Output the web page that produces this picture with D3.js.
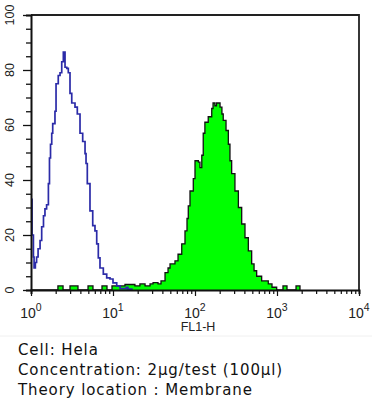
<!DOCTYPE html>
<html><head><meta charset="utf-8">
<script src="https://cdn.jsdelivr.net/npm/d3@7"></script>
<style>body{margin:0;background:#fff}</style>
</head><body><svg id="c" width="372" height="400"></svg>
<script>
// Isotype control (blue outline): FL1-H channel value, count (step after)
const isoX = [1.00,1.03,1.07,1.09,1.13,1.17,1.22,1.29,1.35,1.42,1.48,1.55,1.63,1.68,1.73,1.79,1.84,1.96,2.02,2.15,2.26,2.37,2.48,2.60,2.73,2.85,2.99,3.14,3.44,3.67,3.96,4.27,4.56,4.69,4.86,5.24,5.66,6.03,6.33,6.62,6.94,7.62,8.38,9.19,10.0,11.1,12.2,14.5,15.2,17.0];
const isoY = [33,20,12,8,10,12,15,18,23,27,29.5,31,38.7,48,53,57,60.5,65,75,78,79,83,86.5,81,80.6,79,71.5,68,66.5,64,57,54,49.6,46,38.7,28.8,23.4,21.5,16.8,11.7,8,5.8,4.4,4,2.6,1.5,0.5,1,0.3,0];
// Stained sample (green filled)
const stainX = [1.00,2.13,2.46,2.99,3.74,4.96,5.70,7.34,8.45,9.72,14.0,18.5,21.3,24.6,28.3,30.8,35.4,38.5,43.1,46.9,49.6,57.0,62.1,68.9,75.5,79.9,82.8,86.9,95.3,100,110,115,121,126,132,145,160,166,175,183,191,202,213,221,239,255,267,280,307,338,371,407,447,491,525,565,650,783,869,991,1183,1324,1706,1907];
const stainY = [0,1.5,0,1.5,0,1.5,0,1.5,0,1.5,2,1.5,2.2,1.5,2.2,2.7,2.2,3.3,6.3,8,9.5,10.6,13,16.8,21.5,26,30.6,36,40.5,47,46.5,44.5,49,57,61,63,66,68,67,68,68,66.5,64,61.7,58,53,47,42.3,36,30,24,19,14.2,9.5,7,5,3.3,2.2,1,0,1.5,0,1.5,0];

const yTickValues = [0,20,40,60,80,100];
const xTickExps = [0,1,2,3,4];
const xAxisTitle = "FL1-H";
const infoLines = ["Cell: Hela","Concentration: 2\u00b5g/test (100\u00b5l)","Theory location : Membrane"];

const svg = d3.select("#c");
const m = {l:31,r:359,t:15,b:290};
const x = d3.scaleLog().domain([1,10000]).range([m.l,m.r]);
const y = d3.scaleLinear().domain([0,100]).range([m.b,m.t]);

svg.append("defs").append("clipPath").attr("id","pc")
  .append("rect").attr("x",m.l).attr("y",m.t).attr("width",m.r-m.l).attr("height",m.b-m.t);

const stain = stainX.map((v,i)=>[v,stainY[i]]);
const iso = isoX.map((v,i)=>[v,isoY[i]]);

const g = svg.append("g").attr("clip-path","url(#pc)");
g.append("path").datum(stain)
  .attr("d", d3.area().curve(d3.curveStepAfter).x(d=>x(d[0])).y0(y(0)).y1(d=>y(d[1])))
  .attr("fill","#00ff00");
g.append("path").datum(stain)
  .attr("d", d3.line().curve(d3.curveStepAfter).x(d=>x(d[0])).y(d=>y(d[1])))
  .attr("fill","none").attr("stroke","#111").attr("stroke-width",1.3);
g.append("path").datum(iso)
  .attr("d", d3.line().curve(d3.curveStepAfter).x(d=>x(d[0])).y(d=>y(d[1])))
  .attr("fill","none").attr("stroke","#2b2ba8").attr("stroke-width",1.7);

// frame top/right
svg.append("path").attr("d",`M${m.l},${m.t}H${m.r}V${m.b}`)
  .attr("fill","none").attr("stroke","#222").attr("stroke-width",1.8);

// Y axis
const yMinor = d3.range(0,101,5);
const ya = svg.append("g").attr("transform",`translate(${m.l},0)`)
  .call(d3.axisLeft(y).tickValues(yMinor).tickSize(5).tickFormat(""));
ya.selectAll(".tick line").attr("x2", d=> d%20===0 ? -8 : -5).attr("stroke","#111").attr("stroke-width",1.3);
ya.select(".domain").attr("stroke","#111").attr("stroke-width",2);
svg.append("g").selectAll("text").data(yTickValues).join("text")
  .attr("transform", d=>`translate(14,${Math.max(y(d),11)}) rotate(-90)`)
  .attr("text-anchor","middle")
  .attr("font-family","Liberation Sans, Arial, sans-serif").attr("font-size",12.5).attr("fill","#222")
  .text(d=>d);

// X axis
const xMinor = [];
for (let e=0;e<4;e++) for (let k=1;k<10;k++) xMinor.push(k*Math.pow(10,e));
xMinor.push(10000);
const xa = svg.append("g").attr("transform",`translate(0,${m.b})`)
  .call(d3.axisBottom(x).tickValues(xMinor).tickSize(4).tickFormat(""));
xa.selectAll(".tick line").attr("y2", d=> Math.abs(Math.log10(d)%1)<1e-9 ? 6 : 4).attr("stroke","#111").attr("stroke-width",1.2);
xa.select(".domain").attr("stroke","#111").attr("stroke-width",2);

const xl = svg.append("g").selectAll("text").data(xTickExps).join("text")
  .attr("x", d=>x(Math.pow(10,d)))
  .attr("y", 318)
  .attr("text-anchor","middle")
  .attr("font-family","Liberation Sans, Arial, sans-serif").attr("font-size",14).attr("fill","#222");
xl.append("tspan").text("10");
xl.append("tspan").attr("dy",-7).attr("font-size",10.5).text(d=>d);

svg.append("text").attr("x",x(100)+3).attr("y",331)
  .attr("text-anchor","middle")
  .attr("font-family","Liberation Sans, Arial, sans-serif").attr("font-size",12.5).attr("fill","#222")
  .text(xAxisTitle);

svg.append("line").attr("x1",0).attr("x2",372).attr("y1",336).attr("y2",336)
  .attr("stroke","#f0f0f0").attr("stroke-width",1);

svg.append("g").selectAll("text").data(infoLines).join("text")
  .attr("x",18).attr("y",(d,i)=>355+i*20)
  .attr("font-family","DejaVu Sans, Verdana, sans-serif").attr("font-size",15).attr("letter-spacing",0.9).attr("fill","#111")
  .text(d=>d);
</script></body></html>
